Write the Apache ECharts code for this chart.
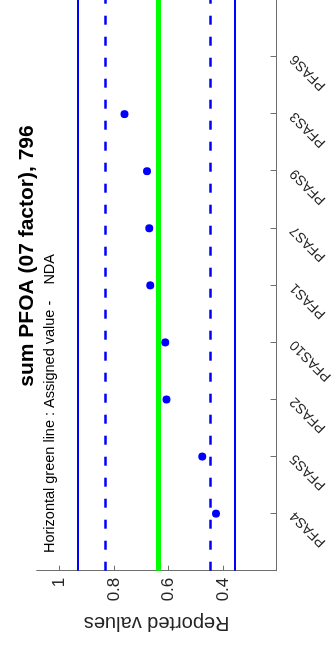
<!DOCTYPE html>
<html>
<head>
<meta charset="utf-8">
<script src="https://cdn.jsdelivr.net/npm/echarts@6/dist/echarts.min.js"></script>
<style>
html,body{margin:0;padding:0;background:#fff;overflow:hidden;}
#wrap{position:relative;width:336px;height:648px;overflow:hidden;}
#chart{position:absolute;left:-156px;top:156px;width:648px;height:336px;transform:rotate(-90deg);transform-origin:50% 50%;}
</style>
</head>
<body>
<div id="wrap"><div id="chart"></div></div>
<script>
// ---- data ----
const categories = ['PFAS4','PFAS5','PFAS2','PFAS10','PFAS1','PFAS7','PFAS9','PFAS3','PFAS6'];
const reported   = [0.428, 0.478, 0.608, 0.613, 0.667, 0.671, 0.679, 0.761, null];
const assignedValue = 0.644;
const warningLimits = [0.454, 0.834];
const actionLimits  = [0.359, 0.929];
const valueTicks = [0.4, 0.6, 0.8, 1];
const titleText = 'sum PFOA (07 factor), 796';
const noteText = 'Horizontal green line : Assigned value -    NDA';

const FONT = '"Liberation Sans", Arial, sans-serif';
const positions = categories.map((c, i) => i + 1);
const points = categories.map((c, i) => [i + 1, reported[i]]).filter(p => p[1] !== null);

const chart = echarts.init(document.getElementById('chart'), null, {renderer: 'canvas'});
chart.setOption({
  animation: false,
  backgroundColor: '#ffffff',
  grid: {left: 77.3, right: 0, top: 36.7, bottom: 55.3, containLabel: false},
  xAxis: {
    type: 'value', min: 0, max: 10,
    axisLine: {show: true, lineStyle: {color: '#6e6e6e', width: 1}},
    axisTick: {show: true, inside: true, length: 6, customValues: positions, lineStyle: {color: '#6e6e6e'}},
    axisLabel: {
      customValues: positions, rotate: 45, margin: 16,
      fontFamily: FONT, fontSize: 14, color: '#262626',
      formatter: v => categories[Math.round(v) - 1] || ''
    },
    splitLine: {show: false}
  },
  yAxis: {
    type: 'value', min: 0.207, max: 1.081,
    name: 'Reported values', nameLocation: 'middle', nameGap: 40, nameRotate: 90,
    nameTextStyle: {fontFamily: FONT, fontSize: 20, color: '#262626'},
    axisLine: {show: true, lineStyle: {color: '#6e6e6e', width: 1}},
    axisTick: {show: true, inside: true, length: 5, customValues: valueTicks, lineStyle: {color: '#6e6e6e'}},
    axisLabel: {
      customValues: valueTicks, margin: 7,
      fontFamily: FONT, fontSize: 17, color: '#262626',
      formatter: v => String(v)
    },
    splitLine: {show: false}
  },
  graphic: [
    {type: 'text', left: 391.3 - 130, top: 17,
     style: {text: titleText, font: 'bold 21px ' + FONT, fill: '#000'}},
    {type: 'text', left: 95, top: 42,
     style: {text: noteText, font: '14.5px ' + FONT, fill: '#000'}}
  ],
  series: [
    {
      type: 'line', data: [], silent: true,
      markLine: {
        silent: true, symbol: 'none', label: {show: false}, animation: false,
        emphasis: {disabled: true},
        data: [
          {yAxis: actionLimits[0], lineStyle: {color: '#0000ff', width: 2, type: 'solid'}},
          {yAxis: actionLimits[1], lineStyle: {color: '#0000ff', width: 2, type: 'solid'}},
          {yAxis: warningLimits[0], lineStyle: {color: '#0000ff', width: 2.5, type: [9, 12]}},
          {yAxis: warningLimits[1], lineStyle: {color: '#0000ff', width: 2.5, type: [9, 12]}},
          {yAxis: assignedValue, lineStyle: {color: '#00ff00', width: 5, type: 'solid'}}
        ]
      }
    },
    {
      type: 'scatter', data: points, symbol: 'circle', symbolSize: 8,
      itemStyle: {color: '#0000ff', opacity: 1}, z: 5
    }
  ]
});
</script>
</body>
</html>
